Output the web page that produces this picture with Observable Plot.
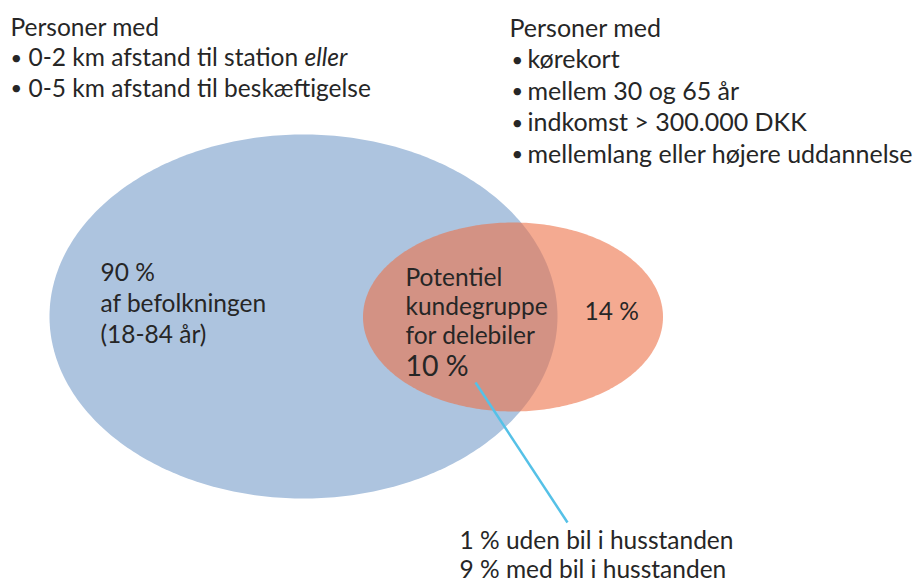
<!DOCTYPE html>
<html><head><meta charset="utf-8">
<script src="https://cdn.jsdelivr.net/npm/d3@7"></script>
<script src="https://cdn.jsdelivr.net/npm/@observablehq/plot@0.6"></script>
<style>html,body{margin:0;padding:0;background:#fff}</style>
</head><body><div id="chart"></div>
<script>
// ---------- data ----------
const leftHeader = "Personer med";
const leftCriteria = ["0-2 km afstand til station", "0-5 km afstand til beskæftigelse"];
const leftConnector = "eller";
const rightHeader = "Personer med";
const rightCriteria = ["kørekort", "mellem 30 og 65 år", "indkomst > 300.000 DKK", "mellemlang eller højere uddannelse"];
const blueShare = 90;
const blueShareLabel = ["af befolkningen", "(18-84 år)"];
const orangeOnlyShare = 14;
const overlapLabel = ["Potentiel", "kundegruppe", "for delebiler"];
const overlapShare = 10;
const splitShares = [1, 9];
const splitLabels = ["uden bil i husstanden", "med bil i husstanden"];

// ---------- layout ----------
const W = 918, H = 581;
const FS = 24.5;
const BS = 20;
const blueEllipse = {cx: 303, cy: 316, rx: 254, ry: 182};
const orangeEllipse = {cx: 512.5, cy: 316.5, rx: 150, ry: 94.5};
const fmt = v => `${v} %`;
const ellipsePts = e => d3.range(0, 360, 1).map(a => ({
  x: e.cx + e.rx * Math.cos(a * Math.PI / 180),
  y: e.cy + e.ry * Math.sin(a * Math.PI / 180)
}));

const rows = [];
const add = (text, x, y, size = FS) => rows.push({text, x, y, size});
add(leftHeader, 10, 35);
leftCriteria.forEach((t, i) => { add("•", 10, 64 + i * 30.5, BS); add(t + (i === 0 ? " " + leftConnector : ""), 28, 65.5 + i * 30.5); });
add(rightHeader, 509, 36, 25);
rightCriteria.forEach((t, i) => { add("•", 511, 66 + i * 31.5, BS); add(t, 527, 67.5 + i * 31.5, 25); });
[fmt(blueShare), ...blueShareLabel].forEach((t, i) => add(t, 100, 280 + i * 31));
overlapLabel.forEach((t, i) => add(t, 405, 285 + i * 29));
add(fmt(overlapShare), 405, 375, 28.5);
add(fmt(orangeOnlyShare), 584, 319);
splitShares.forEach((v, i) => add(`${fmt(v)} ${splitLabels[i]}`, 459, 548 + i * 29));

const pointer = [{x1: 475, y1: 382, x2: 567, y2: 522}];

const chart = Plot.plot({
  width: W, height: H, margin: 0,
  x: {domain: [0, W], range: [0, W], axis: null},
  y: {domain: [0, H], range: [0, H], axis: null},
  style: {fontFamily: "Lato, 'Open Sans', sans-serif", background: "#fff", color: "#262626"},
  marks: [
    Plot.line(ellipsePts(blueEllipse), {x: "x", y: "y", curve: "linear-closed", fill: "#adc4df", stroke: "none"}),
    Plot.line(ellipsePts(orangeEllipse), {x: "x", y: "y", curve: "linear-closed", fill: "#ed7148", fillOpacity: 0.6, stroke: "none"}),
    Plot.link(pointer, {x1: "x1", y1: "y1", x2: "x2", y2: "y2", stroke: "#55c1e7", strokeWidth: 2.5}),
    Plot.text(rows, {x: "x", y: "y", text: "text", fontSize: d => d.size, textAnchor: "start", lineAnchor: "bottom", fill: "#262626"})
  ]
});
// italic connector word
chart.querySelectorAll("text").forEach(t => {
  if (t.textContent === leftCriteria[0] + " " + leftConnector) {
    t.textContent = leftCriteria[0] + " ";
    const ts = document.createElementNS("http://www.w3.org/2000/svg", "tspan");
    ts.setAttribute("font-style", "italic");
    ts.textContent = leftConnector;
    t.appendChild(ts);
  }
});
document.getElementById("chart").appendChild(chart);
</script>
</body></html>
